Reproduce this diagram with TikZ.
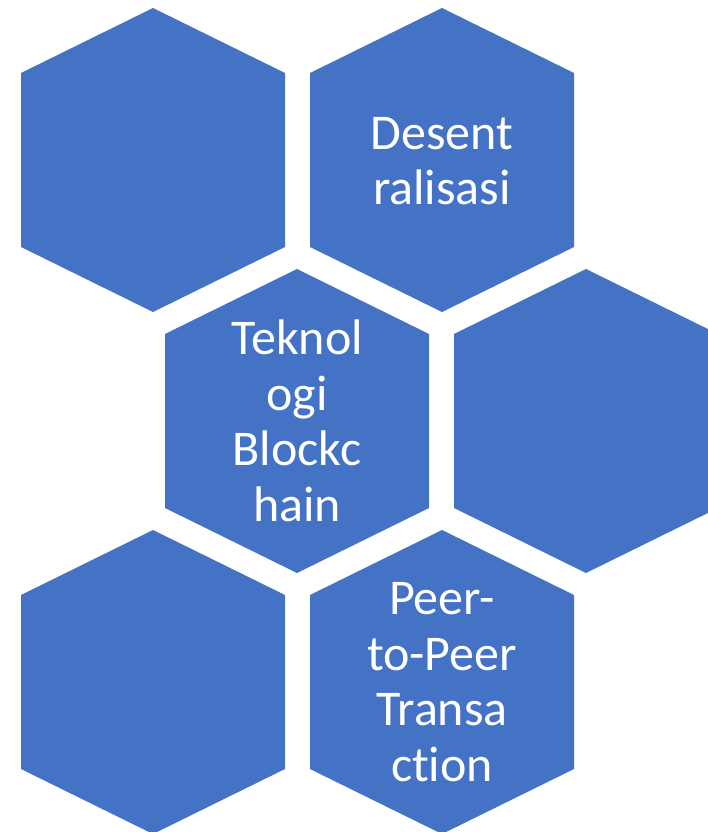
\documentclass[tikz,border=0pt]{standalone}
\usepackage{fontspec}
\setmainfont[Ligatures={NoCommon}]{Carlito}
\definecolor{hexblue}{HTML}{4472C4}
\tikzset{
  hexfill/.style={fill=hexblue},
  hexlabel/.style={text=white, align=center, inner sep=0pt, font=\fontsize{50}{55.5}\selectfont}
}
\newcommand{\hexat}[2]{%
  \fill[hexfill,shift={(#1,#2)}] (0,-152) -- (132,-87) -- (132,87) -- (0,152) -- (-132,87) -- (-132,-87) -- cycle;}
\begin{document}
\begin{tikzpicture}[x=1pt,y=-1pt]
\useasboundingbox (0,0) rectangle (708,832);
\clip (0,0) rectangle (708,832);
\fill[white] (0,0) rectangle (708,832);
\hexat{153}{160}
\hexat{442}{160}
\hexat{297}{421}
\hexat{586}{421}
\hexat{153}{682}
\hexat{442}{682}
\node[hexlabel] (desent) at (442,161) {Desent\\ralisasi};
\node[hexlabel] (tekno) at (297,421) {Teknol\\ogi\\Blockc\\hain};
\node[hexlabel] (p2p) at (442,682) {Peer-\\to-Peer\\Transa\\ction};
\end{tikzpicture}
\end{document}
